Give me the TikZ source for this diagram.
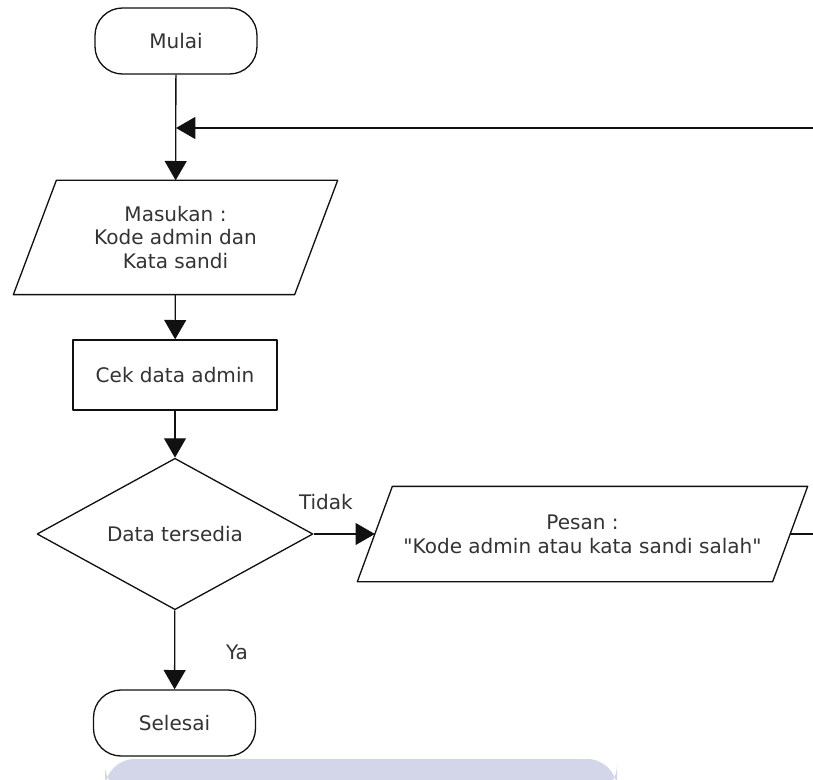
\documentclass[tikz,border=0pt]{standalone}
\usepackage{fontspec}
\setmainfont{DejaVu Sans}
\usepackage{xcolor}
\usepackage{tikz}
\usetikzlibrary{shapes.geometric,arrows.meta}
\definecolor{ink}{HTML}{111111}
\definecolor{txt}{HTML}{333333}
\definecolor{band}{HTML}{D3D5E8}
\tikzset{
  base/.style={draw=ink, line width=0.75pt, line join=round, fill=white, text=txt, font=\fontsize{11.4}{13.6}\selectfont, align=center, inner sep=0pt},
  term/.style={base, rectangle, rounded corners=0.55cm, minimum width=3.24cm, minimum height=1.32cm},
  proc/.style={base, rectangle, minimum width=4.08cm, minimum height=1.4cm},
  io/.style={base, rectangle, draw=none, fill=none},
  dec/.style={base, diamond, minimum width=5.52cm, minimum height=2.54cm},
  flow/.style={draw=ink, line width=0.75pt, -{Triangle[width=12.5pt,length=11pt]}},
  line/.style={draw=ink, line width=0.75pt, line join=round},
  lab/.style={text=txt, font=\fontsize{11.4}{13.6}\selectfont},
}

\begin{document}
\begin{tikzpicture}
  \useasboundingbox (0,0) rectangle (16.26,-15.6);
  \clip (0,0) rectangle (16.26,-15.6);
  \fill[band,rounded corners=0.6cm] (2.1,-15.18) -- (12.34,-15.18) -- (12.34,-15.9) -- (2.1,-15.9) -- cycle;
  \node[term] (mulai) at (3.52,-0.82) {Mulai};
  \node[io,minimum width=5.6cm,minimum height=2.26cm] (masukan) at (3.51,-4.75) {Masukan :\\ Kode admin dan\\ Kata sandi};
  \draw[line] ([xshift=0.43cm]masukan.north west) -- ([xshift=0.43cm]masukan.north east)
    -- ([xshift=-0.43cm]masukan.south east) -- ([xshift=-0.43cm]masukan.south west) -- cycle;
  \node[proc] (cek) at (3.5,-7.5) {Cek data admin};
  \node[dec] (data) at (3.5,-10.68) {Data tersedia};
  \node[io,minimum width=8.28cm,minimum height=1.88cm] (pesan) at (11.65,-10.68) {Pesan :\\ \textquotedbl Kode admin atau kata sandi salah\textquotedbl};
  \draw[line] ([xshift=0.35cm]pesan.north west) -- ([xshift=0.35cm]pesan.north east)
    -- ([xshift=-0.35cm]pesan.south east) -- ([xshift=-0.35cm]pesan.south west) -- cycle;
  \node[term] (selesai) at (3.49,-14.46) {Selesai};
  \coordinate (join) at (mulai.south |- 0,-2.56);
  \draw[flow] (mulai) -- (masukan);
  \draw[flow] (masukan) -- (cek);
  \draw[flow] (cek) -- (data);
  \draw[flow] (data) -- node[lab,pos=0.2,above=0.35cm] {Tidak} (pesan.west);
  \draw[flow] (data) -- node[lab,pos=0.53,right=0.9cm] {Ya} (selesai);
  \draw[flow] (pesan.east) -- ++(1,0) |- (join);
\end{tikzpicture}
\end{document}
